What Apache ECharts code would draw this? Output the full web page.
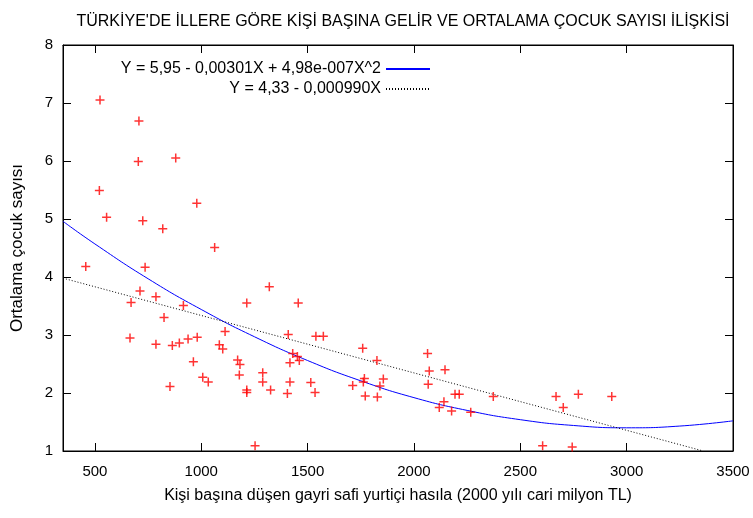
<!DOCTYPE html>
<html>
<head>
<meta charset="utf-8">
<title>Kişi başına gelir ve çocuk sayısı</title>
<script src="https://cdn.jsdelivr.net/npm/echarts@6/dist/echarts.min.js"></script>
<style>
  html, body { margin: 0; padding: 0; background: #fff; }
  #chart { width: 753px; height: 518px; }
</style>
</head>
<body>
<div id="chart"></div>
<script>
// başlık ve eksen yazıları
var titleText = "TÜRKİYE'DE İLLERE GÖRE KİŞİ BAŞINA GELİR VE ORTALAMA ÇOCUK SAYISI İLİŞKİSİ";
var xName = "Kişi başına düşen gayri safi yurtiçi hasıla (2000 yılı cari milyon TL)";
var yName = "Ortalama çocuk sayısı";
var quadLabel = "Y = 5,95 - 0,00301X + 4,98e-007X^2";
var linLabel = "Y = 4,33 - 0,000990X";

// iller: kişi başına gelir (X) ve ortalama çocuk sayısı (Y)
var provinceIncome = [
  524, 707, 704, 880, 521, 979, 555, 725, 819, 1063,
  457, 736, 1320, 712, 787, 670, 1214, 1456, 916, 825,
  1112, 665, 787, 864, 897, 938, 981, 1085, 1101, 963,
  1171, 1182, 1179, 1007, 1033, 853, 1214, 1214, 1289, 1289,
  1326, 1409, 1539, 1574, 1430, 1452, 1417, 1461, 1417, 1405,
  1515, 1535, 1759, 1826, 1712, 1767, 1762, 1856, 1840, 1771,
  1828, 2064, 2072, 2067, 2146, 2193, 2213, 2373, 2141, 2119,
  2177, 2267, 2668, 2773, 2930, 2702, 2605, 2744, 1253
];
var childCount = [
  7.05, 6.69, 5.99, 6.05, 5.49, 5.27, 5.03, 4.97, 4.83, 4.51,
  4.18, 4.17, 3.83, 3.76, 3.66, 3.56, 3.55, 3.55, 3.51, 3.30,
  3.06, 2.95, 2.84, 2.82, 2.86, 2.93, 2.96, 2.83, 2.76, 2.54,
  2.57, 2.49, 2.31, 2.27, 2.19, 2.11, 2.05, 2.01, 2.35, 2.19,
  2.05, 3.01, 2.98, 2.98, 2.68, 2.63, 2.52, 2.56, 2.19, 1.99,
  2.18, 2.01, 2.77, 2.56, 2.13, 2.25, 2.19, 2.24, 2.12, 1.95,
  1.93, 2.68, 2.38, 2.15, 2.40, 1.98, 1.98, 1.94, 1.85, 1.75,
  1.69, 1.67, 1.94, 1.98, 1.94, 1.75, 1.09, 1.07, 1.09
];

// ikinci derece eğri (mavi)
var quadFitX = [350, 500, 750, 1000, 1250, 1500, 1750, 2000, 2250, 2500, 2750, 3000, 3250, 3500];
var quadFitY = [4.96, 4.57, 3.97, 3.44, 2.97, 2.56, 2.21, 1.92, 1.70, 1.54, 1.44, 1.40, 1.43, 1.52];
// doğrusal eğri (siyah noktalı)
var linFitX = [350, 3350];
var linFitY = [3.98, 1.01];

var xTicks = [500, 1000, 1500, 2000, 2500, 3000, 3500];

function zip(a, b) {
  var out = [];
  for (var i = 0; i < a.length; i++) out.push([a[i], b[i]]);
  return out;
}

var font = "Liberation Sans, Arial, sans-serif";
// artı işareti
var plusPath = "path://M0,3.75H9V5.25H0Z M3.75,0H5.25V9H3.75Z";

var tickStyle = { inside: true, length: 8, lineStyle: { color: "#000", width: 1 } };
var legendText = { fontFamily: font, fontSize: 16, color: "#000" };

var myChart = echarts.init(document.getElementById("chart"), null, { renderer: "canvas" });
myChart.setOption({
  animation: false,
  backgroundColor: "#fff",
  title: {
    text: titleText,
    left: 398,
    top: 9,
    textAlign: "center",
    textStyle: { fontFamily: font, fontSize: 16, fontWeight: "normal", color: "#000" }
  },
  grid: {
    left: 63, right: 20, top: 45, bottom: 67,
    show: true, borderColor: "#000", borderWidth: 1, backgroundColor: "transparent"
  },
  legend: [
    {
      data: [quadLabel], right: 317, top: 56, align: "right",
      itemWidth: 44, itemHeight: 14, selectedMode: false,
      itemStyle: { opacity: 0 },
      textStyle: legendText
    },
    {
      data: [linLabel], right: 317, top: 76, align: "right",
      itemWidth: 44, itemHeight: 14, selectedMode: false,
      itemStyle: { opacity: 0 },
      textStyle: legendText
    }
  ],
  xAxis: [
    {
      type: "value", min: 350, max: 3500,
      name: xName, nameLocation: "middle", nameGap: 37,
      nameTextStyle: { fontFamily: font, fontSize: 16, color: "#000" },
      axisLine: { show: true, onZero: false, lineStyle: { color: "#000" } },
      axisTick: Object.assign({ customValues: xTicks }, tickStyle),
      axisLabel: {
        customValues: xTicks, margin: 13, fontFamily: font, fontSize: 15, color: "#000",
        formatter: function (v) { return String(v); }
      },
      splitLine: { show: false }
    },
    {
      type: "value", min: 350, max: 3500, position: "top",
      axisLine: { show: true, onZero: false, lineStyle: { color: "#000" } },
      axisTick: Object.assign({ customValues: xTicks }, tickStyle),
      axisLabel: { show: false },
      splitLine: { show: false }
    }
  ],
  yAxis: [
    {
      type: "value", min: 1, max: 8, interval: 1,
      name: yName, nameLocation: "middle", nameGap: 37, nameRotate: 90,
      nameTextStyle: { fontFamily: font, fontSize: 17, color: "#000" },
      axisLine: { show: true, onZero: false, lineStyle: { color: "#000" } },
      axisTick: tickStyle,
      axisLabel: { margin: 10, fontFamily: font, fontSize: 15, color: "#000" },
      splitLine: { show: false }
    },
    {
      type: "value", min: 1, max: 8, interval: 1, position: "right",
      axisLine: { show: true, onZero: false, lineStyle: { color: "#000" } },
      axisTick: tickStyle,
      axisLabel: { show: false },
      splitLine: { show: false }
    }
  ],
  series: [
    {
      name: "iller",
      type: "scatter",
      data: zip(provinceIncome, childCount),
      symbol: plusPath,
      symbolSize: 9,
      itemStyle: { color: "#ff0000" },
      z: 3
    },
    {
      name: quadLabel,
      type: "line",
      data: zip(quadFitX, quadFitY),
      smooth: true,
      symbol: "none",
      lineStyle: { color: "#0000ff", width: 1 },
      itemStyle: { color: "#0000ff" },
      z: 2
    },
    {
      name: linLabel,
      type: "line",
      data: zip(linFitX, linFitY),
      symbol: "none",
      lineStyle: { color: "#000", width: 1, type: [1, 2] },
      itemStyle: { color: "#000" },
      z: 2
    }
  ]
});
</script>
</body>
</html>
